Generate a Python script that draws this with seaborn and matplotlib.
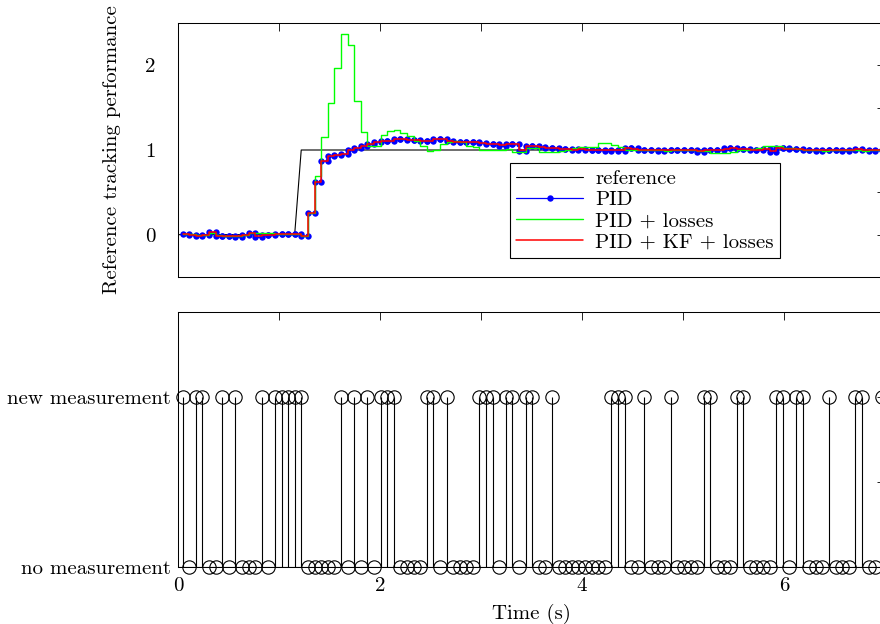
import numpy as np
import matplotlib
matplotlib.use("Agg")
import matplotlib.pyplot as plt
import seaborn as sns

# Sampling grid of the controller (s)
T0 = 0.0465
DT = 0.0653

# Reference step
ref_time = [0.0, 1.155, 1.22, 7.0]
ref_value = [0.0, 0.0, 1.0, 1.0]

# Closed-loop output, one value per sample
pid = [
    0.01, 0.0, -0.01, -0.005, 0.03, -0.01, -0.015, -0.01, -0.025, 0.0,
    0.025, -0.025, -0.005, 0.0, 0.01, 0.01, 0.008, 0.008, -0.01, 0.26,
    0.62, 0.875, 0.93, 0.94, 0.95, 1.0, 1.02, 1.05, 1.067, 1.09,
    1.11, 1.11, 1.13, 1.125, 1.12, 1.12, 1.11, 1.11, 1.13, 1.13,
    1.11, 1.10, 1.10, 1.09, 1.09, 1.08, 1.075, 1.07, 1.05, 1.07,
    1.075, 0.99, 1.05, 1.05, 1.04, 1.02, 1.02, 1.01, 1.01, 1.0,
    1.01, 1.0, 1.0, 1.0, 0.99, 1.0, 0.99, 1.02, 1.02, 1.0,
    1.0, 1.0, 0.99, 1.0, 1.0, 1.0, 1.0, 1.0, 0.98, 1.0,
    1.0, 1.0, 1.02, 1.02, 1.01, 1.01, 1.0, 1.0, 1.01, 0.98,
    1.02, 1.02, 1.01, 1.01, 1.0, 1.0, 0.99, 1.0, 1.0, 1.0,
    0.99, 1.0, 1.01, 1.0, 0.99, 1.0, 1.0,
]

pid_losses = [
    0.01, 0.005, -0.005, 0.0, 0.02, 0.0, -0.01, -0.01, -0.01, 0.0,
    0.02, 0.02, 0.02, 0.02, 0.01, 0.01, 0.01, 0.01, -0.01, 0.26,
    0.694, 1.157, 1.557, 1.969, 2.373, 2.235, 1.58, 1.21, 1.05, 1.05,
    1.18, 1.22, 1.24, 1.20, 1.16, 1.11, 1.05, 0.99, 1.0, 1.07,
    1.10, 1.11, 1.09, 1.05, 1.03, 1.0, 1.0, 1.0, 1.0, 1.01,
    0.98, 0.98, 1.02, 1.02, 0.98, 0.98, 0.98, 0.99, 1.0, 1.02,
    1.04, 1.04, 1.04, 1.086, 1.086, 1.06, 1.03, 1.0, 1.0, 1.0,
    1.0, 1.0, 1.0, 0.99, 1.0, 1.0, 1.0, 1.0, 0.99, 0.99,
    0.96, 0.96, 0.96, 0.98, 1.0, 1.0, 1.01, 1.02, 1.05, 1.05,
    1.05, 1.02, 1.02, 1.01, 1.0, 1.0, 1.0, 0.99, 1.0, 1.0,
    1.0, 1.0, 1.0, 0.99, 1.0, 1.0, 1.0,
]

pid_kf_losses = [
    0.01, 0.0, -0.01, -0.005, 0.03, -0.01, -0.015, -0.01, -0.02, 0.0,
    0.02, -0.02, -0.005, 0.0, 0.01, 0.01, 0.008, 0.008, -0.01, 0.26,
    0.62, 0.875, 0.93, 0.94, 0.95, 1.0, 1.02, 1.05, 1.067, 1.09,
    1.11, 1.11, 1.125, 1.125, 1.12, 1.12, 1.11, 1.11, 1.125, 1.125,
    1.11, 1.10, 1.10, 1.09, 1.09, 1.08, 1.075, 1.07, 1.06, 1.07,
    1.07, 1.0, 1.05, 1.05, 1.04, 1.02, 1.02, 1.01, 1.01, 1.0,
    1.01, 1.0, 1.0, 1.0, 1.0, 1.0, 1.0, 1.02, 1.01, 1.0,
    1.0, 1.0, 1.0, 1.0, 1.0, 1.0, 1.0, 1.0, 0.99, 1.0,
    1.0, 1.0, 1.01, 1.02, 1.01, 1.01, 1.0, 1.0, 1.01, 0.99,
    1.02, 1.01, 1.01, 1.01, 1.0, 1.0, 1.0, 1.0, 1.0, 1.0,
    1.0, 1.0, 1.01, 1.0, 1.0, 1.0, 1.0,
]

# Packet arrival: 1 = new measurement, 0 = no measurement
measurement = [
    1, 0, 1, 1, 0, 0, 1, 0, 1, 0,
    0, 0, 1, 0, 1, 1, 1, 1, 1, 0,
    0, 0, 0, 0, 1, 0, 1, 0, 1, 0,
    1, 1, 1, 0, 0, 0, 0, 1, 1, 0,
    1, 0, 0, 0, 0, 1, 1, 1, 0, 1,
    1, 0, 1, 1, 0, 0, 1, 0, 0, 0,
    0, 0, 0, 0, 0, 1, 1, 1, 0, 0,
    1, 0, 0, 0, 1, 0, 0, 0, 0, 1,
    1, 0, 0, 0, 1, 1, 0, 0, 0, 0,
    1, 1, 0, 1, 1, 0, 0, 0, 1, 0,
    0, 0, 1, 1, 0, 0, 1,
]

y_ticks_meas = ["no measurement", "", "new measurement", ""]


def stairs(t, y):
    """Vertices of a zero-order-hold curve (corner points of every step)."""
    t = np.asarray(t, float)
    y = np.asarray(y, float)
    return np.repeat(t, 2)[1:], np.repeat(y, 2)[:-1]


t = T0 + DT * np.arange(len(measurement))

sns.set_style("white")
plt.rcParams.update({
    "font.family": ["cmr10", "DejaVu Serif"],
    "axes.unicode_minus": False,
    "axes.linewidth": 0.75,
    "axes.edgecolor": "black",
    "xtick.color": "black",
    "ytick.color": "black",
    "text.color": "black",
    "axes.labelcolor": "black",
})

fig = plt.figure(figsize=(8.8, 6.24), dpi=100)
W, H = 880.0, 624.0
ax1 = fig.add_axes([178 / W, 1 - 277 / H, 707 / W, 254 / H])
ax2 = fig.add_axes([178 / W, 1 - 567 / H, 707 / W, 255 / H])

# --- upper panel: tracking performance ---
sns.lineplot(x=ref_time, y=ref_value, ax=ax1, color="black", lw=0.8,
             sort=False, estimator=None, label="reference")
xs, ys = stairs(t, pid)
sns.lineplot(x=xs, y=ys, ax=ax1, color="#0000ff", lw=0.9, marker="o",
             markersize=4.6, markeredgewidth=0, sort=False, estimator=None,
             label="PID")
xs, ys = stairs(t, pid_losses)
sns.lineplot(x=xs, y=ys, ax=ax1, color="#00ff00", lw=1.0,
             sort=False, estimator=None, label="PID + losses")
xs, ys = stairs(t, pid_kf_losses)
sns.lineplot(x=xs, y=ys, ax=ax1, color="#ff0000", lw=1.1,
             sort=False, estimator=None, label="PID + KF + losses")

ax1.set_xlim(0, 7)
ax1.set_ylim(-0.5, 2.5)
ax1.set_xticks(range(8))
ax1.set_yticks(np.arange(-0.5, 2.51, 0.5))
ax1.set_yticklabels(["", "0", "", "1", "", "2", ""])
ax1.tick_params(direction="in", length=5.5, width=0.6, top=True, right=True,
                labelbottom=False, labelsize=15)
ax1.tick_params(axis="y", pad=16)
ax1.set_ylabel("Reference tracking performance", fontsize=15)
ax1.yaxis.set_label_coords(-(178 - 121) / 707, 0.5)

leg = ax1.legend(loc="lower left", bbox_to_anchor=(0.4696, 0.0748),
                 borderaxespad=0, frameon=True, fancybox=False,
                 edgecolor="black", framealpha=1, fontsize=15,
                 handlelength=3.2, handletextpad=0.6, labelspacing=0.13,
                 borderpad=0.3, numpoints=1)
leg.get_frame().set_linewidth(0.8)

# --- lower panel: measurement arrivals ---
ax2.vlines(t, 0, measurement, colors="black", lw=0.8)
ax2.axhline(0, color="black", lw=0.8)
sns.lineplot(x=t, y=measurement, ax=ax2, linestyle="", marker="o",
             markersize=9.6, markerfacecolor="none", markeredgecolor="black",
             markeredgewidth=0.8, sort=False, estimator=None, clip_on=False)

ax2.set_xlim(0, 7)
ax2.set_ylim(0, 1.5)
ax2.set_xticks(range(8))
ax2.set_xticklabels(["0", "", "2", "", "4", "", "6", ""])
ax2.set_yticks([0, 0.5, 1, 1.5])
ax2.set_yticklabels(y_ticks_meas)
ax2.tick_params(direction="in", length=5.5, width=0.6, top=True, right=True,
                labelsize=15)
ax2.tick_params(axis="y", pad=5)
ax2.tick_params(axis="x", pad=7)
ax2.set_xlabel("Time (s)", fontsize=15)
ax2.xaxis.set_label_coords(0.5, -(604 - 567) / 255)
ax2.set_ylabel("")

fig.savefig("out.png", dpi=100)
